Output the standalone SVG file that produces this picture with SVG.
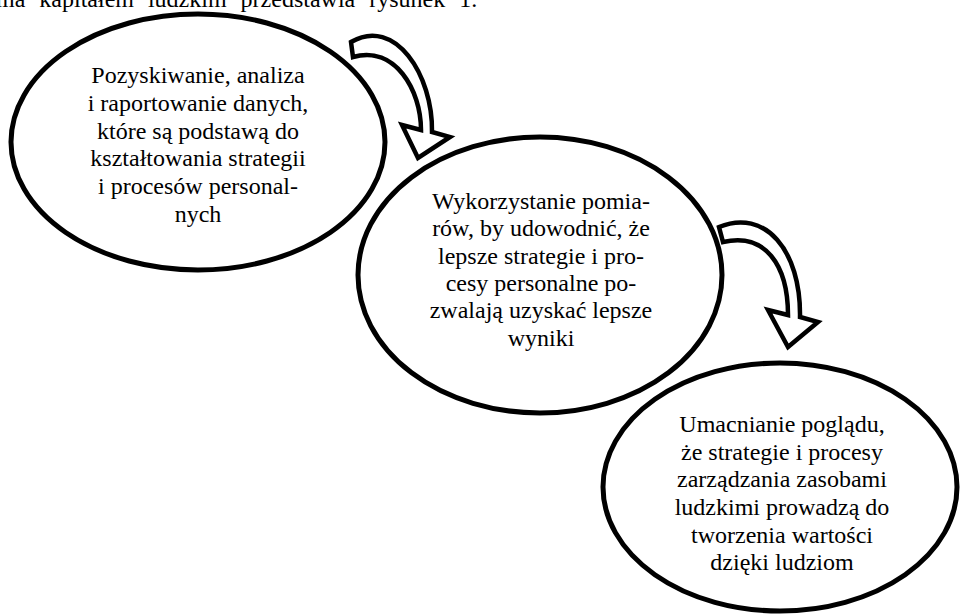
<svg xmlns="http://www.w3.org/2000/svg" width="960" height="616" viewBox="0 0 960 616">
<style>
  .bg { fill: #ffffff; }
  .node ellipse { fill: #ffffff; stroke: #000000; stroke-width: 5; }
  .arrow { fill: #ffffff; stroke: #000000; stroke-width: 4.5; stroke-linejoin: miter; }
</style>
<rect class="bg" x="0" y="0" width="960" height="616"/>
<text x="-4" y="7" word-spacing="8" font-family="'Liberation Serif', 'Times New Roman', 'DejaVu Serif', serif" font-size="24" fill="#000000">ma kapitałem ludzkim przedstawia rysunek 1.</text>

<g id="node1" class="node">
  <ellipse cx="198" cy="142" rx="187" ry="128"/>
  <g font-family="'Liberation Serif', 'Times New Roman', 'DejaVu Serif', serif" font-size="24" fill="#000000" text-anchor="middle">
  <text x="198" y="83">Pozyskiwanie, analiza</text>
  <text x="198" y="111">i raportowanie danych,</text>
  <text x="198" y="139">które są podstawą do</text>
  <text x="198" y="166">kształtowania strategii</text>
  <text x="198" y="194">i procesów personal-</text>
  <text x="198" y="222">nych</text>
  </g>
</g>

<g id="node2" class="node">
  <ellipse cx="540" cy="275" rx="182" ry="138"/>
  <g font-family="'Liberation Serif', 'Times New Roman', 'DejaVu Serif', serif" font-size="24" fill="#000000" text-anchor="middle">
  <text x="541" y="209">Wykorzystanie pomia-</text>
  <text x="541" y="236">rów, by udowodnić, że</text>
  <text x="541" y="264">lepsze strategie i pro-</text>
  <text x="541" y="291">cesy personalne po-</text>
  <text x="541" y="318">zwalają uzyskać lepsze</text>
  <text x="541" y="346">wyniki</text>
  </g>
</g>

<g id="node3" class="node">
  <ellipse cx="780" cy="487" rx="177" ry="124"/>
  <g font-family="'Liberation Serif', 'Times New Roman', 'DejaVu Serif', serif" font-size="24" fill="#000000" text-anchor="middle">
  <text x="782" y="432">Umacnianie poglądu,</text>
  <text x="782" y="460">że strategie i procesy</text>
  <text x="782" y="487">zarządzania zasobami</text>
  <text x="782" y="515">ludzkimi prowadzą do</text>
  <text x="782" y="543">tworzenia wartości</text>
  <text x="782" y="570">dzięki ludziom</text>
  </g>
</g>

<g id="connectors">
  <path id="arrow1" class="arrow" d="M351,42 C395,16 433,75 432,132 L450,137 L418,158 L402,125 L421,130 C421,90 395,45 353,57 Z"/>
  <path id="arrow2" class="arrow" d="M719,227 C765,208 801,250 800,317 L818,322 L788,347 L768,310 L788,315 C788,265 765,232 723,242 Z"/>
</g>
</svg>
